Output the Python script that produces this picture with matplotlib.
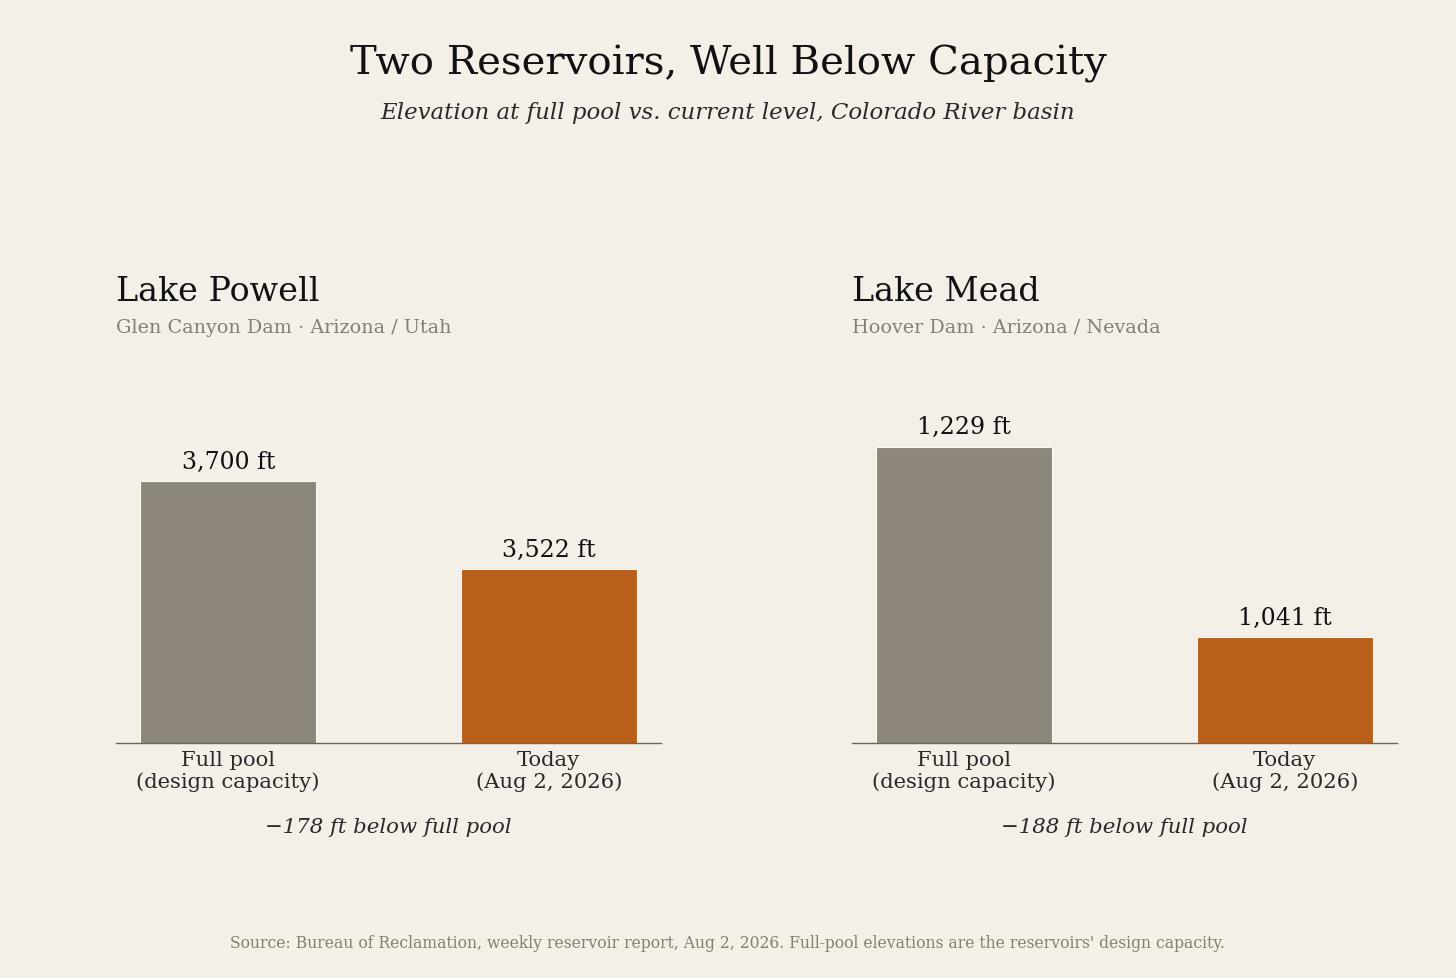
import matplotlib
matplotlib.use("Agg")
from matplotlib import pyplot as plt

# --- data ---
lakes = ["Lake Powell", "Lake Mead"]
dams = ["Glen Canyon Dam · Arizona / Utah", "Hoover Dam · Arizona / Nevada"]
categories = ["Full pool\n(design capacity)", "Today\n(Aug 2, 2026)"]
full_pool = [3700, 1229]
today = [3522, 1041]

BG = "#f4f0e8"
GRAY = "#8c867b"
ORANGE = "#b85f1a"
INK = "#111111"
MUTED = "#857f72"

plt.rcParams["font.family"] = ["DejaVu Serif"]

fig = plt.figure(figsize=(14.56, 9.79), dpi=100, facecolor=BG)

fig.text(0.5, 0.935, "Two Reservoirs, Well Below Capacity", ha="center", va="center",
         fontsize=29, color=INK)
fig.text(0.5, 0.885, "Elevation at full pool vs. current level, Colorado River basin",
         ha="center", va="center", fontsize=16.5, style="italic", color="#2a2a2a")

lefts = [116 / 1456, 852 / 1456]
width = 545 / 1456
bottom = 1 - 744 / 979
height = 371 / 979

for i in range(2):
    ax = fig.add_axes([lefts[i], bottom, width, height])
    ax.set_facecolor(BG)
    vals = [full_pool[i], today[i]]
    bars = ax.bar([0, 1], vals, width=0.55, color=[GRAY, ORANGE],
                  edgecolor="#fbf8f2", linewidth=0.8, zorder=2)
    lo = min(vals) * 0.9
    ax.set_ylim(lo, max(vals) * 1.06)
    ax.set_xlim(-0.35, 1.35)
    for b, v in zip(bars, vals):
        ax.annotate(f"{v:,} ft", (b.get_x() + b.get_width() / 2, v),
                    xytext=(0, 6), textcoords="offset points",
                    ha="center", va="bottom", fontsize=17, color=INK)
    ax.set_xticks([0, 1])
    ax.set_xticklabels(categories, fontsize=15.2, color="#2a2a2a", linespacing=1.15)
    ax.tick_params(axis="x", length=0, pad=5)
    ax.set_yticks([])
    for s in ["top", "right", "left"]:
        ax.spines[s].set_visible(False)
    ax.spines["bottom"].set_color("#6b665c")
    ax.spines["bottom"].set_linewidth(1.0)

    ax.text(0, 1.194, lakes[i], transform=ax.transAxes, ha="left", va="baseline",
            fontsize=24, color=INK)
    ax.text(0, 1.109, dams[i], transform=ax.transAxes, ha="left", va="baseline",
            fontsize=13.8, color=MUTED)
    diff = today[i] - full_pool[i]
    ax.text(0.5, -0.225, f"\u2212{abs(diff)} ft below full pool", transform=ax.transAxes,
            ha="center", va="center", fontsize=15.3, style="italic", color="#2a2a2a")

fig.text(0.5, 0.036, "Source: Bureau of Reclamation, weekly reservoir report, Aug 2, 2026. "
         "Full-pool elevations are the reservoirs' design capacity.",
         ha="center", va="center", fontsize=11.25, color=MUTED)

fig.savefig("out.png", dpi=100, facecolor=BG)
